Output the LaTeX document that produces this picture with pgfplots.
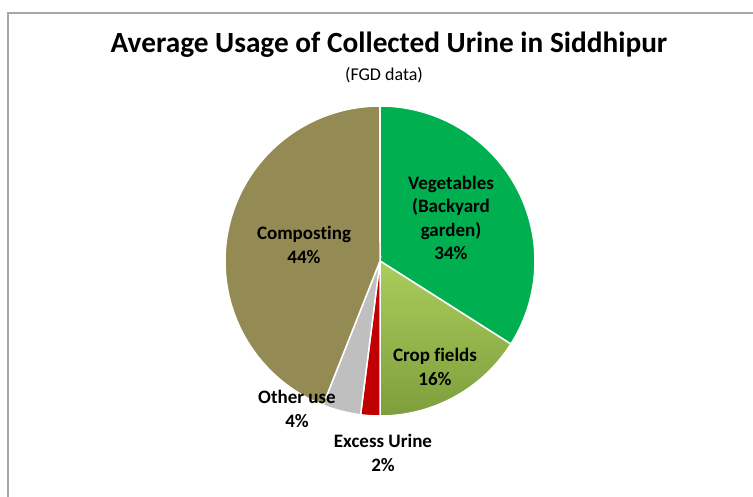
\documentclass[border=0pt]{standalone}
\usepackage{fontspec}
\setmainfont[Ligatures=NoCommon]{Carlito}
\usepackage{pgfplots}
\usepackage{pgfplotstable}
\pgfplotsset{compat=1.18}
\definecolor{veg}{HTML}{00B050}
\definecolor{cropT}{HTML}{AACD5C}
\definecolor{cropB}{HTML}{7E9E3C}
\definecolor{excess}{HTML}{C00000}
\definecolor{other}{HTML}{BFBFBF}
\definecolor{compost}{HTML}{948A54}
\definecolor{frame}{HTML}{A6A6A6}

\pgfplotstableread{
label value
Vegetables 34
Crop 16
Excess 2
Other 4
Composting 44
}\piedata

\begin{document}%
\begin{tikzpicture}
\pgfplotstablegetelem{0}{value}\of\piedata \let\vA\pgfplotsretval
\pgfplotstablegetelem{1}{value}\of\piedata \let\vB\pgfplotsretval
\pgfplotstablegetelem{2}{value}\of\piedata \let\vC\pgfplotsretval
\pgfplotstablegetelem{3}{value}\of\piedata \let\vD\pgfplotsretval
\pgfplotstablegetelem{4}{value}\of\piedata \let\vE\pgfplotsretval
\pgfmathsetmacro\aA{3.6*\vA}
\pgfmathsetmacro\aB{\aA+3.6*\vB}
\pgfmathsetmacro\aC{\aB+3.6*\vC}
\pgfmathsetmacro\aD{\aC+3.6*\vD}
\pgfmathsetmacro\aE{\aD+3.6*\vE}
\def\cx{380}\def\cy{261}\def\rr{155}
\begin{axis}[at={(0,0)}, anchor=south west, scale only axis,
  width=753pt, height=497pt, xmin=0, xmax=753, ymin=0, ymax=497,
  y dir=reverse, hide axis, clip=true]
\draw[frame, line width=2pt] (axis cs:7.5,13.5) rectangle (axis cs:800,560);
\addplot[fill=veg, draw=white, line width=1.5pt, domain=0:\aA, samples=80, variable=\t]
  ({\cx+\rr*sin(\t)},{\cy-\rr*cos(\t)}) -- (axis cs:\cx,\cy) -- cycle;
\addplot[top color=cropT, bottom color=cropB, draw=white, line width=1.5pt, domain=\aA:\aB, samples=60, variable=\t]
  ({\cx+\rr*sin(\t)},{\cy-\rr*cos(\t)}) -- (axis cs:\cx,\cy) -- cycle;
\addplot[fill=excess, draw=white, line width=1.5pt, domain=\aB:\aC, samples=10, variable=\t]
  ({\cx+\rr*sin(\t)},{\cy-\rr*cos(\t)}) -- (axis cs:\cx,\cy) -- cycle;
\addplot[fill=other, draw=white, line width=1.5pt, domain=\aC:\aD, samples=15, variable=\t]
  ({\cx+\rr*sin(\t)},{\cy-\rr*cos(\t)}) -- (axis cs:\cx,\cy) -- cycle;
\addplot[fill=compost, draw=white, line width=1.5pt, domain=\aD:\aE, samples=100, variable=\t]
  ({\cx+\rr*sin(\t)},{\cy-\rr*cos(\t)}) -- (axis cs:\cx,\cy) -- cycle;

\node[font=\bfseries\fontsize{29.3}{34}\selectfont] at (axis cs:389,45) {Average Usage of Collected Urine in Siddhipur};
\node[font=\fontsize{18}{20}\selectfont] at (axis cs:384,75) {(FGD data)};
\node[font=\bfseries\fontsize{19}{23.5}\selectfont, align=center] at (axis cs:451,218) {Vegetables\\(Backyard\\garden)\\34\%};
\node[font=\bfseries\fontsize{19}{23.5}\selectfont, align=center] at (axis cs:304,245) {Composting\\44\%};
\node[font=\bfseries\fontsize{19}{23.5}\selectfont, align=center] at (axis cs:435,367) {Crop fields\\16\%};
\node[font=\bfseries\fontsize{19}{23.5}\selectfont, align=center] at (axis cs:297,409) {Other use\\4\%};
\node[font=\bfseries\fontsize{19}{23.5}\selectfont, align=center] at (axis cs:383,453) {Excess Urine\\2\%};
\end{axis}
\pgfresetboundingbox
\useasboundingbox (0,0) rectangle (753pt,497pt);
\end{tikzpicture}%
\end{document}
